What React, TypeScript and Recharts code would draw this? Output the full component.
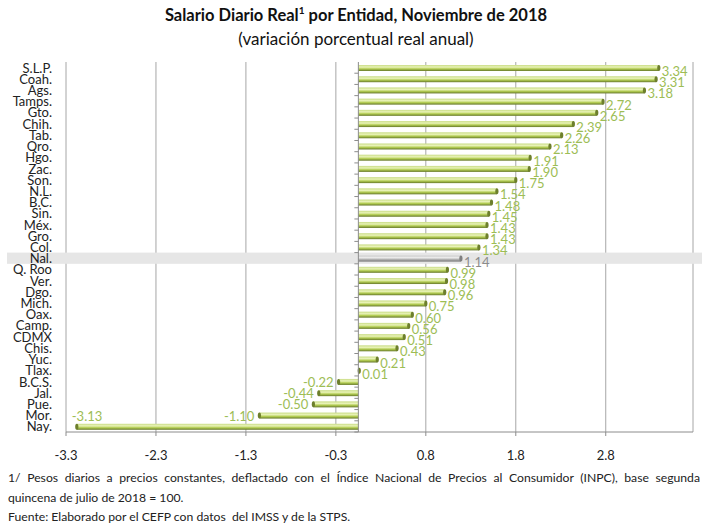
import {
  Bar,
  BarChart,
  CartesianGrid,
  LabelList,
  ReferenceArea,
  ReferenceLine,
  XAxis,
  YAxis,
} from "recharts";

const states = [
  "S.L.P.", "Coah.", "Ags.", "Tamps.", "Gto.", "Chih.", "Tab.", "Qro.", "Hgo.", "Zac.", "Son.",
  "N.L.", "B.C.", "Sin.", "Méx.", "Gro.", "Col.", "Nal.", "Q. Roo", "Ver.", "Dgo.", "Mich.",
  "Oax.", "Camp.", "CDMX", "Chis.", "Yuc.", "Tlax.", "B.C.S.", "Jal.", "Pue.", "Mor.", "Nay.",
];
const values = [
  3.34, 3.31, 3.18, 2.72, 2.65, 2.39, 2.26, 2.13, 1.91, 1.9, 1.75,
  1.54, 1.48, 1.45, 1.43, 1.43, 1.34, 1.14, 0.99, 0.98, 0.96, 0.75,
  0.6, 0.56, 0.51, 0.43, 0.21, 0.01, -0.22, -0.44, -0.5, -1.1, -3.13,
];
const tickValues = [-3.25, -2.25, -1.25, -0.25, 0.75, 1.75, 2.75];
const tickLabels = ["-3.3", "-2.3", "-1.3", "-0.3", "0.8", "1.8", "2.8"];
const highlight = "Nal.";

const data = states.map((s, i) => ({ state: s, value: values[i] }));

const FONT = "Lato, 'Open Sans', sans-serif";
const GREEN_TEXT = "#9dbd55";

function BarShape(props: any) {
  const { x, y, width, height, payload } = props;
  const x0 = Math.min(x, x + width);
  const w = Math.abs(width);
  const nal = payload.state === highlight;
  const capX = payload.value >= 0 ? x0 + w : x0;
  return (
    <g>
      <rect x={x0} y={y} width={w} height={height} fill={nal ? "url(#gGray)" : "url(#gGreen)"} />
      <ellipse cx={capX} cy={y + height / 2} rx={1.6} ry={height / 2} fill={nal ? "#7f7f7f" : "#6d7f2c"} />
    </g>
  );
}

function ValueLabel(props: any) {
  const { x, y, width, height, value, index } = props;
  const cy = y + height / 2;
  const nal = states[index] === highlight;
  const fill = nal ? "#8c8c8c" : GREEN_TEXT;
  const txt = Number(value).toFixed(2);
  if (value >= 0) {
    return (
      <text x={x + width + 3} y={cy + 3} dominantBaseline="central" fontSize={13} fontFamily={FONT} fill={fill}>
        {txt}
      </text>
    );
  }
  const end = Math.min(x, x + width);
  if (value < -3) {
    return (
      <text x={end - 5} y={cy - 11} dominantBaseline="central" fontSize={13} fontFamily={FONT} fill={fill}>
        {txt}
      </text>
    );
  }
  return (
    <text x={end - 5} y={cy} textAnchor="end" dominantBaseline="central" fontSize={13} fontFamily={FONT} fill={fill}>
      {txt}
    </text>
  );
}

function StateTick(props: any) {
  const { x, y, payload } = props;
  return (
    <text x={x - 6} y={y} textAnchor="end" dominantBaseline="central" fontSize={13} fontFamily={FONT} fill="#222">
      {payload.value}
    </text>
  );
}

function ZeroAxis(props: any) {
  const { x1, y1, y2 } = props;
  const step = (y2 - y1) / states.length;
  return (
    <g>
      <line x1={x1} y1={y1} x2={x1} y2={y2} stroke="#8c8c8c" />
      {states.map((_, i) => (
        <line key={i} x1={x1 - 4} x2={x1} y1={y1 + i * step} y2={y1 + i * step} stroke="#8c8c8c" />
      ))}
    </g>
  );
}

function Band(props: any) {
  const { x, y, width, height } = props;
  return <rect x={x - 59} y={y} width={width + 70} height={height} fill="#e6e6e6" />;
}

export default function App() {
  return (
    <div style={{ position: "absolute", left: 0, top: 0, width: 702, height: 529, background: "#fff", fontFamily: FONT }}>
      <div style={{ position: "absolute", top: 4, left: 0, width: 712, textAlign: "center", fontWeight: 700, fontSize: 16.5, color: "#111" }}>
        Salario Diario Real<sup style={{ fontSize: 10 }}>1</sup> por Entidad, Noviembre de 2018
      </div>
      <div style={{ position: "absolute", top: 28, left: 0, width: 712, textAlign: "center", fontSize: 17, color: "#111" }}>
        (variación porcentual real anual)
      </div>
      <div style={{ position: "absolute", top: 0, left: 0 }}>
        <BarChart
          width={702}
          height={529}
          layout="vertical"
          data={data}
          barCategoryGap={0}
          margin={{ top: 62, right: 9, bottom: 67, left: 8 }}
        >
          <defs>
            <linearGradient id="gGreen" x1="0" y1="0" x2="0" y2="1">
              <stop offset="0%" stopColor="#c9dc86" />
              <stop offset="35%" stopColor="#e9f3b8" />
              <stop offset="65%" stopColor="#b2cc52" />
              <stop offset="100%" stopColor="#66782a" />
            </linearGradient>
            <linearGradient id="gGray" x1="0" y1="0" x2="0" y2="1">
              <stop offset="0%" stopColor="#c8c8c8" />
              <stop offset="35%" stopColor="#eeeeee" />
              <stop offset="65%" stopColor="#b0b0b0" />
              <stop offset="100%" stopColor="#777" />
            </linearGradient>
          </defs>
          <ReferenceArea y1={highlight} y2={highlight} ifOverflow="visible" shape={<Band />} />
          <CartesianGrid horizontal={false} stroke="#a6a6a6" />
          <XAxis
            type="number"
            domain={[-3.25, 3.72]}
            ticks={tickValues}
            tickFormatter={(v) => tickLabels[tickValues.indexOf(v)] ?? ""}
            allowDataOverflow
            height={30}
            stroke="#8c8c8c"
            tickSize={4}
            tickMargin={10}
            tick={{ fontSize: 13, fontFamily: FONT, fill: "#222", dy: 5 }}
          />
          <YAxis
            type="category"
            dataKey="state"
            width={58}
            axisLine={false}
            tickLine={false}
            interval={0}
            tick={<StateTick />}
          />
          <ReferenceLine x={0} shape={<ZeroAxis />} />
          <Bar dataKey="value" barSize={6} shape={<BarShape />} isAnimationActive={false}>
            <LabelList dataKey="value" content={<ValueLabel />} />
          </Bar>
        </BarChart>
      </div>
      <div style={{ position: "absolute", top: 468, left: 8, width: 692, fontSize: 12.2, color: "#222", lineHeight: "19.5px", whiteSpace: "pre" }}>
        <div style={{ textAlign: "justify", textAlignLast: "justify", whiteSpace: "normal" }}>
          1/ Pesos diarios a precios constantes, deflactado con el Índice Nacional de Precios al Consumidor (INPC), base segunda
        </div>
        <div>quincena de julio de 2018 = 100.</div>
        <div>Fuente: Elaborado por el CEFP con datos  del IMSS y de la STPS.</div>
      </div>
    </div>
  );
}
